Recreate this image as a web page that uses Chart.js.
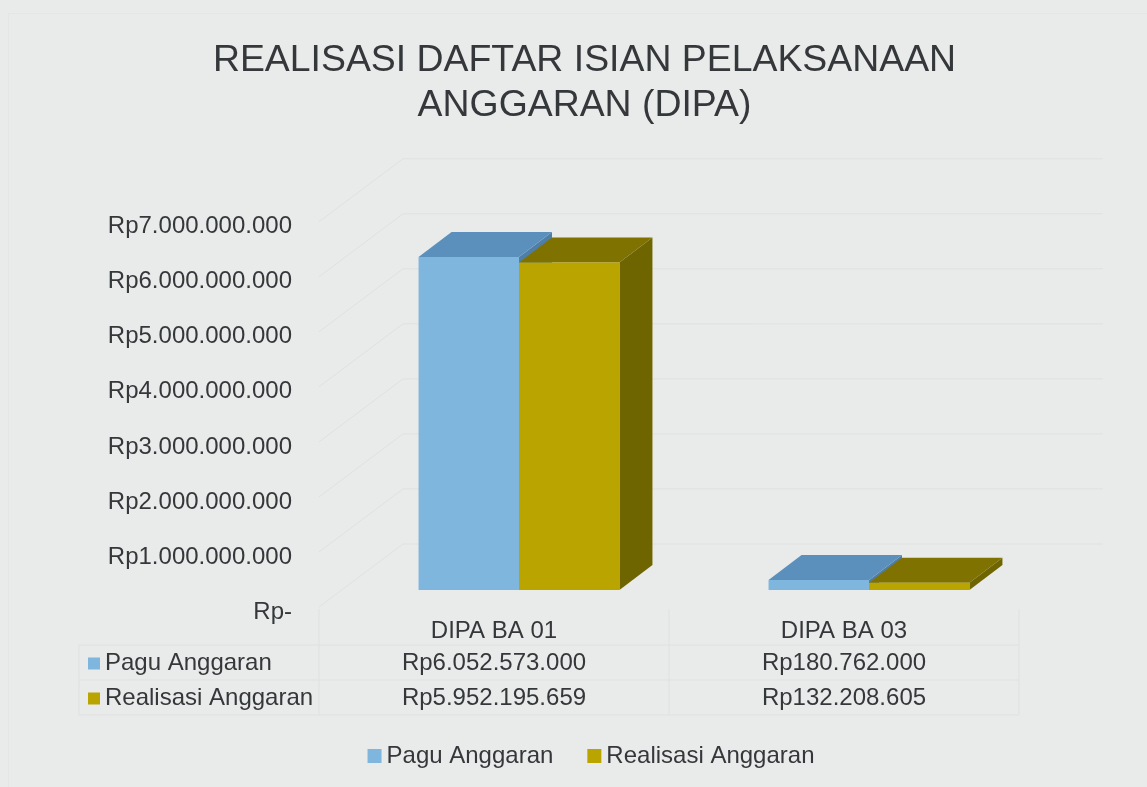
<!DOCTYPE html>
<html>
<head>
<meta charset="utf-8">
<title>Realisasi DIPA</title>
<script src="https://cdn.jsdelivr.net/npm/chart.js@4"></script>
<style>
  html, body { margin: 0; padding: 0; background: #e9ebea; }
  #wrap { width: 1147px; height: 787px; position: relative; }
  #frame { position: absolute; left: 8px; top: 13px; right: 0; bottom: 0; border-left: 1px solid #e4e5e5; border-top: 1px solid #e4e5e5; }
  canvas { position: absolute; left: 0; top: 0; }
</style>
</head>
<body>
<div id="wrap"><div id="frame"></div><canvas id="dipaChart" width="1147" height="787"></canvas></div>
<script>
const categories = ["DIPA BA 01", "DIPA BA 03"];
const seriesNames = ["Pagu Anggaran", "Realisasi Anggaran"];
const paguAnggaran = [6052573000, 180762000];
const realisasiAnggaran = [5952195659, 132208605];
const titleLines = ["REALISASI DAFTAR ISIAN PELAKSANAAN", "ANGGARAN (DIPA)"];

const textColor = "#35383b";
const gridColor = "#dfe0e0";
const fontName = "'Liberation Sans', Arial, sans-serif";

// front, top and side colours of each 3D bar
const blue = { front: "#7fb6dd", top: "#5b90bd", side: "#4f7fa8" };
const gold = { front: "#b9a400", top: "#7f7200", side: "#6f6500" };

// the bars stand inside the box, the depth is what the top and side faces add
const barShift = { x: 25, y: -22 };
const barDepth = { x: 33, y: -25 };
const wallDepth = { x: 84, y: -63 };
const wallLift = -5;
const tableRows = [645, 680, 715];
const tableLeft = 79;

function rupiah(v) {
  if (v === 0) return "Rp-";
  return "Rp" + String(v).replace(/\B(?=(\d{3})+$)/g, ".");
}

function poly(ctx, color, pts) {
  ctx.fillStyle = color;
  ctx.beginPath();
  pts.forEach((p, i) => (i ? ctx.lineTo(p[0], p[1]) : ctx.moveTo(p[0], p[1])));
  ctx.closePath();
  ctx.fill();
}

const walls3d = {
  id: "walls3d",
  beforeDraw(chart) {
    // legend padding is wide for the item gap, so put the box back where it belongs
    chart.legend.left += 20;
    chart.legend.top -= 9;
  },
  beforeDatasetsDraw(chart) {
    const { ctx, chartArea: area, scales: { y } } = chart;
    ctx.save();
    ctx.strokeStyle = gridColor;
    ctx.lineWidth = 1;
    y.ticks.forEach(t => {
      const py = y.getPixelForValue(t.value) + wallLift;
      ctx.beginPath();
      ctx.moveTo(area.left, py);
      ctx.lineTo(area.left + wallDepth.x, py + wallDepth.y);
      ctx.lineTo(area.right + wallDepth.x, py + wallDepth.y);
      ctx.stroke();
    });
    ctx.restore();

    // top and side faces, first series behind the second one
    ctx.save();
    ctx.translate(barShift.x, barShift.y);
    chart.data.datasets.forEach((ds, i) => {
      chart.getDatasetMeta(i).data.forEach(bar => {
        const l = bar.x - bar.width / 2, r = bar.x + bar.width / 2;
        const dx = barDepth.x, dy = barDepth.y;
        poly(ctx, ds.faces.side, [[r, bar.y], [r + dx, bar.y + dy], [r + dx, bar.base + dy], [r, bar.base]]);
        poly(ctx, ds.faces.top, [[l, bar.y], [l + dx, bar.y + dy], [r + dx, bar.y + dy], [r, bar.y]]);
      });
    });
    ctx.restore();
  },
  beforeDatasetDraw(chart) {
    chart.ctx.save();
    chart.ctx.translate(barShift.x, barShift.y);
  },
  afterDatasetDraw(chart) {
    chart.ctx.restore();
  }
};

const dataTable = {
  id: "dataTable",
  afterDraw(chart) {
    const { ctx, chartArea: area, scales: { x } } = chart;
    const rows = [[seriesNames[0], paguAnggaran, blue.front], [seriesNames[1], realisasiAnggaran, gold.front]];
    const top = area.bottom - 3;
    ctx.save();
    ctx.strokeStyle = gridColor;
    ctx.lineWidth = 1;
    tableRows.forEach(py => {
      ctx.beginPath();
      ctx.moveTo(tableLeft, py);
      ctx.lineTo(area.right, py);
      ctx.stroke();
    });
    [area.left, (area.left + area.right) / 2, area.right].forEach(px => {
      ctx.beginPath();
      ctx.moveTo(px, top);
      ctx.lineTo(px, tableRows[2]);
      ctx.stroke();
    });
    ctx.beginPath();
    ctx.moveTo(tableLeft, tableRows[0]);
    ctx.lineTo(tableLeft, tableRows[2]);
    ctx.stroke();

    ctx.font = "24px " + fontName;
    ctx.textBaseline = "middle";
    rows.forEach((row, i) => {
      const cy = (tableRows[i] + tableRows[i + 1]) / 2 + 1;
      ctx.fillStyle = row[2];
      ctx.fillRect(tableLeft + 9, cy - 6, 12, 12);
      ctx.fillStyle = textColor;
      ctx.textAlign = "left";
      ctx.fillText(row[0], tableLeft + 26, cy);
      ctx.textAlign = "center";
      row[1].forEach((v, j) => ctx.fillText(rupiah(v), x.getPixelForValue(j), cy));
    });
    ctx.restore();
  }
};

new Chart(document.getElementById("dipaChart"), {
  type: "bar",
  data: {
    labels: categories,
    datasets: [
      { label: seriesNames[0], data: paguAnggaran, backgroundColor: blue.front, faces: blue, clip: false },
      { label: seriesNames[1], data: realisasiAnggaran, backgroundColor: gold.front, faces: gold, clip: false }
    ]
  },
  options: {
    responsive: false,
    animation: false,
    layout: { padding: { left: 22, top: 38 } },
    datasets: { bar: { categoryPercentage: 0.574, barPercentage: 1 } },
    plugins: {
      title: {
        display: true,
        text: titleLines,
        color: textColor,
        font: { family: fontName, size: 37.4, weight: "normal", lineHeight: 1.2 },
        padding: { top: 0, bottom: 99 }
      },
      legend: {
        position: "bottom",
        labels: {
          color: textColor,
          font: { family: fontName, size: 24 },
          usePointStyle: true,
          pointStyle: "rect",
          boxWidth: 0.01,
          boxHeight: 14,
          padding: 41
        }
      },
      tooltip: { enabled: false }
    },
    scales: {
      x: {
        grid: { display: false, drawTicks: false },
        border: { display: false },
        ticks: { color: textColor, font: { family: fontName, size: 24 }, padding: 5, maxRotation: 0 },
        afterFit(s) { s.height = 100; }
      },
      y: {
        min: 0,
        max: 7000000000,
        grid: { display: false, drawTicks: false },
        border: { display: false },
        ticks: {
          stepSize: 1000000000,
          color: textColor,
          font: { family: fontName, size: 24 },
          padding: 27,
          callback: v => rupiah(v)
        },
        afterFit(s) { s.width = 319 - 22; }
      },
      // empty axis, keeps the plot box away from the right edge
      yRight: {
        position: "right",
        grid: { display: false },
        border: { display: false },
        ticks: { display: false },
        afterFit(s) { s.width = 1147 - 1019; }
      }
    }
  },
  plugins: [walls3d, dataTable]
});
</script>
</body>
</html>
